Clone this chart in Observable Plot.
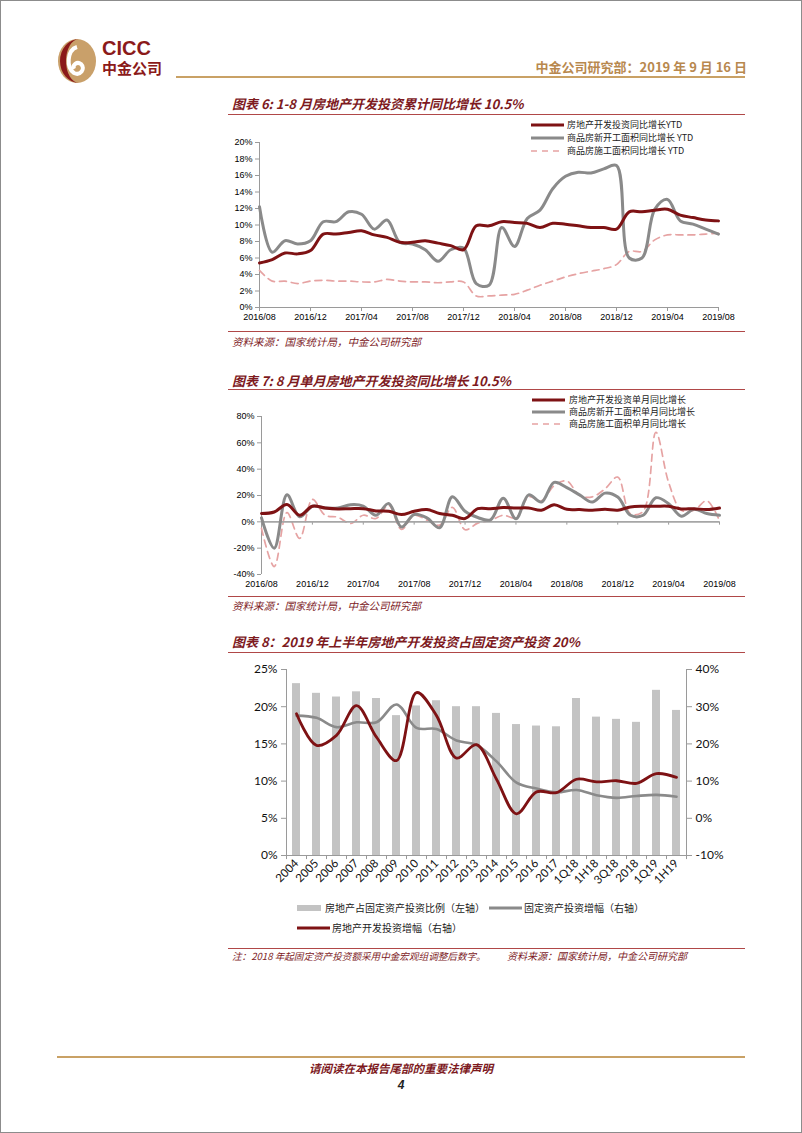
<!DOCTYPE html>
<html lang="zh">
<head>
<meta charset="utf-8">
<script src="https://cdn.jsdelivr.net/npm/d3@7"></script>
<script src="https://cdn.jsdelivr.net/npm/@observablehq/plot@0.6"></script>
<style>
html,body{margin:0;padding:0;background:#fff;}
#page{position:relative;width:802px;height:1133px;overflow:hidden;font-family:"Noto Sans CJK SC","Liberation Sans",sans-serif;}
.a{position:absolute;white-space:nowrap;}
.title{left:232px;font-size:13px;font-style:italic;font-weight:bold;color:#7d1a1e;line-height:16px;}
.rule{position:absolute;left:228px;width:517px;height:0;border-top:1px solid #b04848;}
.src{left:232px;font-size:10.5px;font-style:italic;color:#7d1a1e;line-height:12px;}
.leg{position:absolute;display:flex;align-items:center;white-space:nowrap;color:#222;}
</style>
</head>
<body>
<div id="page">
  <div class="a" style="left:0;top:0;width:802px;height:1133px;box-sizing:border-box;border:1px solid #8c8c8c;"></div>
  <svg class="a" style="left:55px;top:38px" width="44" height="46" viewBox="0 0 44 46">
    <ellipse cx="22" cy="23" rx="19" ry="22" fill="#c9a06a"/>
    <path d="M24,1 A19,22 0 1 0 24,45 A13,22 0 0 1 24,1 Z" fill="#8b1a1a"/>
    <path d="M22,9 C12,12 11,30 19,35 C25,38 31,31 26,26 C22,23 17,27 19,31" fill="none" stroke="#fff" stroke-width="4"/>
  </svg>
  <div class="a" style="left:102px;top:37px;font-family:'Liberation Sans',Arial,sans-serif;font-weight:bold;font-size:20px;color:#8b1a1a;line-height:22px;">CICC</div>
  <div class="a" style="left:102px;top:58px;font-weight:bold;font-size:15px;color:#8b1a1a;line-height:19px;">中金公司</div>
  <div class="a" style="right:55px;top:59px;font-weight:bold;font-size:13px;color:#b8884e;line-height:16px;">中金公司研究部：2019 年 9 月 16 日</div>
  <div class="a" style="left:176px;top:76px;width:569px;height:2px;background:#c9a165;"></div>

  <div class="a title" style="top:96px;">图表 6: 1-8 月房地产开发投资累计同比增长 10.5%</div>
  <div class="rule" style="top:114px;"></div>
  <div id="c1" class="a" style="left:220px;top:118px;"></div>
  <div class="rule" style="top:331px;"></div>
  <div class="a src" style="top:336px;">资料来源：国家统计局，中金公司研究部</div>

  <div class="a title" style="top:373px;">图表 7: 8 月单月房地产开发投资同比增长 10.5%</div>
  <div class="rule" style="top:389px;"></div>
  <div id="c2" class="a" style="left:220px;top:392px;"></div>
  <div class="rule" style="top:596px;"></div>
  <div class="a src" style="top:600px;">资料来源：国家统计局，中金公司研究部</div>

  <div class="a title" style="top:634px;">图表 8：2019 年上半年房地产开发投资占固定资产投资 20%</div>
  <div class="rule" style="top:652px;"></div>
  <div id="c3" class="a" style="left:220px;top:655px;"></div>
  <div class="rule" style="top:948px;"></div>
  <div class="a src" style="top:950px;font-size:9.6px;">注：2018 年起固定资产投资额采用中金宏观组调整后数字。</div>
  <div class="a src" style="left:507px;top:950px;font-size:10px;">资料来源：国家统计局，中金公司研究部</div>

  <div class="a" style="left:57px;top:1056px;width:688px;height:2px;background:#c9a165;"></div>
  <div class="a" style="left:0;width:802px;top:1061px;text-align:center;font-size:11.5px;font-style:italic;font-weight:bold;color:#7d1a1e;line-height:14px;">请阅读在本报告尾部的重要法律声明</div>
  <div class="a" style="left:0;width:802px;top:1078px;text-align:center;font-size:12px;font-style:italic;font-weight:bold;color:#222;font-family:'Liberation Sans',Arial,sans-serif;line-height:14px;">4</div>
</div>
<script>
// ---------- Chart 1 data (YTD, %), monthly 2016/08 .. 2019/08 ----------
const xTickLabels = ["2016/08","2016/12","2017/04","2017/08","2017/12","2018/04","2018/08","2018/12","2019/04","2019/08"];
const monthsPerTick = 4;
const invYTD = [5.4,5.8,6.6,6.5,6.9, 8.9,8.9,9.1,9.3,8.8,8.5,7.9,7.9,8.1,7.8,7.5,7.0, 9.9,9.9,10.4,10.3,10.2,9.7,10.2,10.1,9.9,9.7,9.7,9.5, 11.6,11.6,11.8,11.9,11.2,10.9,10.6,10.5];
const newStartYTD = [12.2,6.7,8.1,7.7,8.1, 10.4,10.4,11.6,11.3,9.5,10.6,7.9,7.7,7.0,5.6,7.0,7.2, 2.9,2.7,9.7,7.4,10.8,11.8,14.4,15.9,16.4,16.3,16.8,17.2, 6.0,6.0,11.9,13.1,10.5,10.1,9.5,8.9];
const underConYTD = [4.5,3.2,3.2,2.9,3.2, 3.3,3.2,3.2,3.1,3.1,3.4,3.2,3.1,3.1,3.0,3.1,3.1, 1.4,1.4,1.5,1.6,2.1,2.7,3.2,3.7,4.1,4.4,4.7,5.2, 6.8,6.8,8.2,8.8,8.8,8.8,8.9,9.0];
const yTicks1 = [0,2,4,6,8,10,12,14,16,18,20];
const legend1 = ["房地产开发投资同比增长YTD","商品房新开工面积同比增长 YTD","商品房施工面积同比增长 YTD"];

// ---------- Chart 2 data (single month, %) ----------
const invMonth = [6.3,7.5,13.2,5.0,11.8, 10.5,9.8,10.0,10.0,8.3,8.0,5.5,8.0,9.3,6.3,5.0,2.5, 10.0,10.0,10.8,10.5,10.5,8.8,13.0,9.5,9.3,8.8,9.5,8.8, 11.3,11.8,11.8,11.8,9.8,10.0,9.3,10.5];
const newStartMonth = [3,-20,20.5,3.8,11.8, 10.5,10.5,13,12,5,14,-4,5.6,3,-4.5,19,8, 3.3,1.5,18,2.3,20.5,15,30,26,20.5,15,21.8,18.8, 5,5,18.3,13.8,4.3,9.5,6.3,5];
const underConMonth = [-5,-34,7,-12.5,17, 5,3.5,-1.3,5,2.5,12.5,-5.8,5,1.3,-2.5,11,-6, -1,1,5,3,19,16,27.5,31,20,19,25,34, 6,8,68,30,8.8,8.8,16,0.8];
const yTicks2 = [-40,-20,0,20,40,60,80];
const legend2 = ["房地产开发投资单月同比增长","商品房新开工面积单月同比增长","商品房施工面积单月同比增长"];

// ---------- Chart 3 data ----------
const cats3 = ["2004","2005","2006","2007","2008","2009","2010","2011","2012","2013","2014","2015","2016","2017","1Q18","1H18","3Q18","2018","1Q19","1H19"];
const reShare = [23.1,21.8,21.3,22.0,21.1,18.8,20.1,20.8,20.0,20.0,19.1,17.6,17.4,17.3,21.1,18.6,18.3,17.9,22.2,19.5];
const faiGrowth = [27.6,27.0,24.5,25.8,25.8,30.6,24.3,24.0,20.9,19.7,15.3,9.6,8.0,7.0,7.6,6.2,5.5,6.0,6.3,5.8];
const reiGrowth = [28.1,19.6,22.3,30.3,21.8,15.5,33.8,27.6,16.2,19.8,10.5,1.2,7.1,6.9,10.5,9.8,10.1,9.4,12.0,11.0];
const yTicksLeft3 = [0,5,10,15,20,25];
const yTicksRight3 = [-10,0,10,20,30,40];
const legend3 = ["房地产占固定资产投资比例（左轴）","固定资产投资增幅（右轴）","房地产开发投资增幅（右轴）"];

const RED = "#7e1214", GRAY = "#8a8a8a", PINK = "#e6a3a3", AXIS = "#9a9a9a", BAR = "#c3c3c3";
const toRows = arr => arr.map((v, i) => ({i, v}));
const xTickIdx = xTickLabels.map((_, k) => k * monthsPerTick);
const baseStyle = {fontFamily: "'Liberation Sans', Arial, sans-serif", fontSize: "9px", color: "#000", background: "transparent", overflow: "visible"};

function seriesMarks(a, b, c) {
  return [
    Plot.line(toRows(c), {x: "i", y: "v", stroke: PINK, strokeWidth: 1.7, strokeDasharray: "7,5", curve: "catmull-rom"}),
    Plot.line(toRows(b), {x: "i", y: "v", stroke: GRAY, strokeWidth: 3, curve: "catmull-rom"}),
    Plot.line(toRows(a), {x: "i", y: "v", stroke: RED, strokeWidth: 3, curve: "catmull-rom"})
  ];
}

// Chart 1
const c1 = Plot.plot({
  width: 520, height: 212,
  marginLeft: 39, marginRight: 22, marginTop: 24, marginBottom: 23,
  x: {type: "linear", domain: [0, invYTD.length - 1], axis: null},
  y: {domain: [0, 20], axis: null, label: null},
  style: baseStyle,
  marks: [
    Plot.ruleY([0], {stroke: AXIS}),
    Plot.ruleX([0], {stroke: AXIS}),
    Plot.axisY(yTicks1, {anchor: "left", tickSize: 4, tickPadding: 3, stroke: AXIS, fill: "#000", tickFormat: d => d + "%", label: null}),
    Plot.axisX(xTickIdx, {anchor: "bottom", tickSize: 4, tickPadding: 2, stroke: AXIS, fill: "#000", tickFormat: i => xTickLabels[i / monthsPerTick], label: null}),
    ...seriesMarks(invYTD, newStartYTD, underConYTD)
  ]
});
document.getElementById("c1").appendChild(c1);

// Chart 2
const c2 = Plot.plot({
  width: 520, height: 204,
  marginLeft: 41, marginRight: 21, marginTop: 24, marginBottom: 22,
  x: {type: "linear", domain: [0, invMonth.length - 1], axis: null},
  y: {domain: [-40, 80], axis: null, label: null},
  style: baseStyle,
  marks: [
    Plot.ruleX([0], {stroke: AXIS}),
    Plot.axisY(yTicks2, {anchor: "left", tickSize: 4, tickPadding: 3, stroke: AXIS, fill: "#000", tickFormat: d => d + "%", label: null}),
    Plot.axisX(xTickIdx, {anchor: "bottom", tickSize: 0, tickPadding: 6, fill: "#000", tickFormat: i => xTickLabels[i / monthsPerTick], label: null}),
    Plot.ruleX(xTickIdx, {x: d => d, y1: 0, y2: -2.5, stroke: AXIS}),
    ...seriesMarks(invMonth, newStartMonth, underConMonth).slice(0, 1),
    Plot.ruleY([0], {stroke: "#a6a6a6", strokeWidth: 1.6}),
    ...seriesMarks(invMonth, newStartMonth, underConMonth).slice(1)
  ]
});
document.getElementById("c2").appendChild(c2);

// Chart 3 (dual axis: right values mapped onto the left scale)
const [rMin, rMax] = [yTicksRight3[0], yTicksRight3[yTicksRight3.length - 1]];
const [lMin, lMax] = [yTicksLeft3[0], yTicksLeft3[yTicksLeft3.length - 1]];
const toLeft = r => lMin + (r - rMin) / (rMax - rMin) * (lMax - lMin);
const fromLeft = l => Math.round(rMin + (l - lMin) / (lMax - lMin) * (rMax - rMin));
const bars3 = reShare.map((v, i) => ({i, v}));
const halfBar = 0.2;
const c3 = Plot.plot({
  width: 520, height: 245,
  marginLeft: 66, marginRight: 54, marginTop: 14, marginBottom: 45,
  x: {type: "linear", domain: [-0.5, cats3.length - 0.5], axis: null},
  y: {domain: [lMin, lMax], axis: null, label: null},
  style: {...baseStyle, fontFamily: "Lato, 'Liberation Sans', sans-serif", fontSize: "12px"},
  marks: [
    Plot.rectY(bars3, {x1: d => d.i - halfBar, x2: d => d.i + halfBar, y: "v", fill: BAR}),
    Plot.ruleY([lMin], {stroke: AXIS}),
    Plot.ruleX([-0.5, cats3.length - 0.5], {stroke: AXIS}),
    Plot.ruleX(d3.range(cats3.length + 1).map(k => k - 0.5), {x: d => d, y1: lMin, y2: lMin - 0.55, stroke: AXIS}),
    Plot.axisY(yTicksLeft3, {anchor: "left", tickSize: 5, tickPadding: 4, stroke: AXIS, fill: "#111", tickFormat: d => d + "%", label: null}),
    Plot.axisY(yTicksRight3.map(toLeft), {anchor: "right", tickSize: 5, tickPadding: 4, stroke: AXIS, fill: "#111", tickFormat: d => fromLeft(d) + "%", label: null}),
    Plot.axisX(d3.range(cats3.length), {anchor: "bottom", tickSize: 0, tickPadding: 6, tickRotate: -45, fill: "#111", fontSize: 11.5, tickFormat: i => cats3[i], label: null}),
    Plot.line(faiGrowth.map((v, i) => ({i, v: toLeft(v)})), {x: "i", y: "v", stroke: GRAY, strokeWidth: 2.6, curve: "catmull-rom"}),
    Plot.line(reiGrowth.map((v, i) => ({i, v: toLeft(v)})), {x: "i", y: "v", stroke: RED, strokeWidth: 2.8, curve: "catmull-rom"})
  ]
});
document.getElementById("c3").appendChild(c3);

// Legends
const page = document.getElementById("page");
function swatch(kind, color) {
  if (kind === "bar") return `<svg width="24" height="8"><rect x="0" y="1" width="24" height="6" fill="${color}"/></svg>`;
  const dash = kind === "dash" ? `stroke-dasharray="6,5"` : "";
  const w = kind === "dash" ? 1.7 : 3;
  return `<svg width="33" height="6"><line x1="0" x2="33" y1="3" y2="3" stroke="${color}" stroke-width="${w}" ${dash}/></svg>`;
}
function addLegend(label, kind, color, left, cy, fs, gap) {
  const d = document.createElement("div");
  d.className = "leg";
  d.style.left = left + "px";
  d.style.top = (cy - 7) + "px";
  d.style.height = "14px";
  d.style.fontSize = fs + "px";
  d.innerHTML = swatch(kind, color) + `<span style="margin-left:${gap}px;line-height:14px">${label}</span>`;
  page.appendChild(d);
}
const kinds = ["solid", "solid", "dash"], cols = [RED, GRAY, PINK];
[125, 138, 151].forEach((cy, k) => addLegend(legend1[k], kinds[k], cols[k], 531, cy, 9, 3));
[400, 412, 424].forEach((cy, k) => addLegend(legend2[k], kinds[k], cols[k], 532, cy, 9, 4));
addLegend(legend3[0], "bar", BAR, 297, 908, 10, 4);
addLegend(legend3[1], "solid", GRAY, 489, 908, 10, 2);
addLegend(legend3[2], "solid", RED, 297, 928, 10, 2);
</script>
</body>
</html>
